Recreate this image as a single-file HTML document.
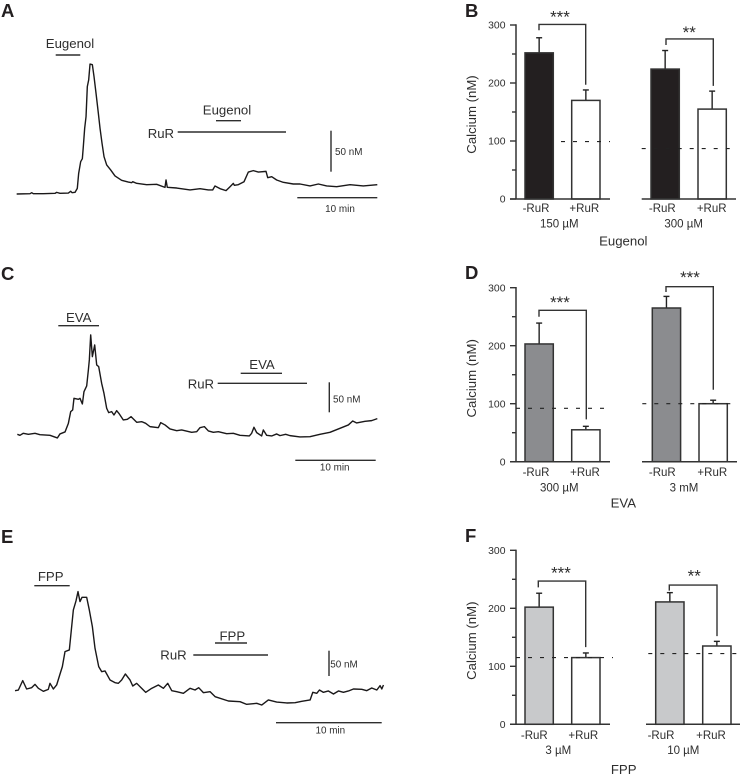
<!DOCTYPE html>
<html lang="en">
<head>
<meta charset="utf-8">
<title>Calcium responses with and without RuR</title>
<style>
html,body{margin:0;padding:0;background:#fff;width:743px;height:779px;overflow:hidden}
svg{display:block;filter:blur(0.3px)}
text{font-family:"Liberation Sans",sans-serif;fill:#2e2e2e}
.panel{font-size:18.5px;font-weight:bold;fill:#231f20}
.lab{font-size:13.2px}
.small{font-size:9.9px}
.bar-lab{font-size:11.5px}
.tick{font-size:10.4px}
.star{font-size:17px}
.mid{text-anchor:middle}
</style>
</head>
<body>
<svg id="figure" xmlns="http://www.w3.org/2000/svg" width="743" height="779" viewBox="0 0 743 779">
<rect width="743" height="779" fill="#fff"/>

<text class="panel" x="1" y="17">A</text>
<text class="panel" x="465" y="17">B</text>
<text class="panel" x="1" y="280">C</text>
<text class="panel" x="465" y="279">D</text>
<text class="panel" x="1" y="543">E</text>
<text class="panel" x="465" y="542">F</text>

<g stroke="#2e2e2e" stroke-width="1.4">
<line x1="55.7" x2="80.3" y1="55" y2="55"/>
<line x1="216" x2="241" y1="120.7" y2="120.7"/>
<line x1="177.7" x2="286" y1="132" y2="132"/>
<line x1="331" x2="331" y1="130.7" y2="171.7"/>
<line x1="297.3" x2="377.3" y1="197.7" y2="197.7"/>
<line x1="58.3" x2="99" y1="325.7" y2="325.7"/>
<line x1="240.7" x2="282" y1="373.3" y2="373.3"/>
<line x1="217.7" x2="307" y1="383.3" y2="383.3"/>
<line x1="329.3" x2="329.3" y1="382.3" y2="412.3"/>
<line x1="295.3" x2="375.7" y1="460.3" y2="460.3"/>
<line x1="34.3" x2="69.7" y1="585.7" y2="585.7"/>
<line x1="215" x2="247" y1="643" y2="643"/>
<line x1="193.3" x2="268" y1="655" y2="655"/>
<line x1="329" x2="329" y1="650.7" y2="676"/>
<line x1="276" x2="381.7" y1="722.7" y2="722.7"/>
</g>

<text class="lab mid" x="70" y="48">Eugenol</text>
<text class="lab mid" x="227" y="114.7">Eugenol</text>
<text class="lab" x="147.7" y="138">RuR</text>
<text class="small" x="335" y="155">50 nM</text>
<text class="small mid" x="340" y="212">10 min</text>

<text class="lab mid" x="78.7" y="322">EVA</text>
<text class="lab mid" x="262" y="369">EVA</text>
<text class="lab" x="187.7" y="388.7">RuR</text>
<text class="small" x="333" y="402.7">50 nM</text>
<text class="small mid" x="334.7" y="470.7">10 min</text>

<text class="lab mid" x="50.7" y="581">FPP</text>
<text class="lab mid" x="232.3" y="640.7">FPP</text>
<text class="lab" x="160.3" y="659.7">RuR</text>
<text class="small" x="330.3" y="667.3">50 nM</text>
<text class="small mid" x="330.3" y="733.3">10 min</text>

<text class="lab mid" transform="translate(476,114.5) rotate(-90)">Calcium (nM)</text>
<text class="lab mid" transform="translate(476,378.3) rotate(-90)">Calcium (nM)</text>
<text class="lab mid" transform="translate(476,640.7) rotate(-90)">Calcium (nM)</text>

<text class="lab mid" x="623.3" y="245.7">Eugenol</text>
<text class="lab mid" x="623.3" y="507.3">EVA</text>
<text class="lab mid" x="623.7" y="774">FPP</text>

<text class="bar-lab mid" x="559.3" y="227.7">150 µM</text>
<text class="bar-lab mid" x="683.7" y="227.7">300 µM</text>
<text class="bar-lab mid" x="559.3" y="491.7">300 µM</text>
<text class="bar-lab mid" x="684" y="491.7">3 mM</text>
<text class="bar-lab mid" x="558.3" y="754">3 µM</text>
<text class="bar-lab mid" x="683.3" y="754">10 µM</text>

<text class="star mid" x="560" y="22.3">***</text>
<text class="star mid" x="689.3" y="38">**</text>
<text class="star mid" x="560" y="308">***</text>
<text class="star mid" x="690" y="283">***</text>
<text class="star mid" x="561" y="578.6">***</text>
<text class="star mid" x="694.3" y="581.3">**</text>
</svg>

<script>
var traceATime = [0,1.67,1.88,2.08,3.33,4.79,5,5.42,6.46,6.75,6.92,7.29,7.58,7.75,8,8.21,8.33,8.5,8.67,8.83,9,9.17,9.46,9.67,9.92,10.21,10.42,10.67,10.92,11.25,11.75,12.29,13.12,13.96,14.38,14.5,15,16.25,17.5,18.54,18.67,18.83,20,21.67,22.92,23.96,24.5,24.79,25.42,26.17,26.67,27.08,27.21,27.71,28.42,28.96,29.58,30.21,31.17,31.38,31.88,32.5,33.33,34.58,35.42,36.67,37.71,38.75,40,41.67,43.33,45.08];
var traceASignal = [0,0.4,1.6,0.4,0.4,0.8,2,0.8,1.2,3.3,1.6,2,6.9,25.2,39.4,43.1,57.7,80.1,94.3,130.9,139,158.5,157.7,143.1,122.8,98.4,80.1,61.8,45.5,35.4,29.3,22,16.7,14.6,13.8,15,13,11.4,11.8,8.1,17.1,8.1,7.3,4.9,6.5,4.9,4.9,9.8,6.5,4.1,8.9,13,10.6,11.4,15,26.8,28.5,26.8,27.6,19.9,21.1,17.1,14.2,12.2,12.2,9.8,12.2,9.8,8.9,11.4,9.8,11.4];

var traceCTime = [0,0.33,0.75,1.38,2.21,2.83,4.08,5,5.33,5.96,6.38,6.67,6.92,7.08,7.63,7.83,8.13,8.33,8.67,8.88,9,9.17,9.38,9.67,9.92,10.17,10.54,10.83,11.17,11.42,11.79,12.08,12.42,12.75,13.25,13.75,14.21,14.92,15.54,16.04,16.58,17.63,17.92,18.46,19.08,19.92,20.54,21.79,22.42,22.83,23.38,23.88,24.5,25.13,26.17,27,27.83,29,29.29,29.58,29.92,30.54,30.75,31.17,31.79,32.42,32.83,33.54,34.08,35.33,36.58,37.83,39.08,40.33,41.38,41.92,42.42,43.46,44.29,45];
var traceCSignal = [5,3.3,6.7,5,6.7,4.4,3.3,-1.1,5.6,8.9,23.3,42.8,45.6,65,63.3,65,55.6,76.1,85.6,112.2,128.9,170.6,134.4,153.9,120.6,117.8,90,73.3,48.3,41.1,42.8,37.2,44.4,38.9,28.9,30,34.4,25,26.1,23.3,17.8,16.1,24.4,20.6,13.9,11.1,12.2,8.3,9.4,16.1,17.8,10.6,8.3,9.4,6.1,6.7,3.3,2.2,6.7,16.7,7.8,2.2,12.2,3.3,2.2,5.6,2.8,5,2.8,0.6,1.1,5,8.3,15,20.6,27.2,23.9,26.7,27.8,31.1];

var traceETime = [0,0.32,0.73,1.1,1.58,1.89,2.21,2.68,3.15,3.31,3.63,3.94,4.26,4.48,4.73,5.14,5.33,5.52,5.77,5.96,6.15,6.34,6.78,7.03,7.32,7.57,7.92,8.2,8.52,8.99,9.46,9.78,10.09,10.44,10.88,11.14,11.51,11.99,12.37,12.93,13.56,14.04,14.45,14.83,15.3,15.93,16.56,17.03,17.38,17.82,18.45,18.93,20.19,21.29,21.92,22.87,23.34,23.97,24.76,25.71,26.5,27.13,27.92,28.17,28.55,28.8,29.18,29.65,30.13,30.6,31.07,31.55,32.02,32.81,33.28,33.75,34.23,34.54,34.7,34.86];
var traceESignal = [26.3,27.6,46.1,29.6,32.2,38.8,30.9,25,28.9,40.8,29.6,37.5,59.2,73.7,103.3,106.6,146.1,185.5,203.3,221.7,202,210.5,210.5,185.5,152.6,109.9,73.7,63.8,65.1,47.4,42.1,40.8,47.4,59.2,47.4,35.5,40.8,30.9,23,30.9,37.5,30.9,40.8,26.3,24.3,21.1,30.9,27.6,32.2,22.4,24.3,14.5,5.9,4.6,-0.7,1.3,-2,7.9,3.9,2,2.6,5.3,7.9,23,21.1,27.6,23,25.7,19.7,25.7,23,25.7,29.6,28.9,26.3,31.6,27.6,36.2,29.6,37.5];

var barCategories = ['-RuR','+RuR','-RuR','+RuR'];
var yTickValues = [0,100,200,300];
var yMinorTickValues = [50,150,250];

var panelBMeans = [252,170,224,155];
var panelBErrors = [26,18,32,31];
var panelBBaselines = [99,87];

var panelDMeans = [203,55,265,100];
var panelDErrors = [36,6,20,6];
var panelDBaselines = [92,100];

var panelFMeans = [202,115,211,135];
var panelFErrors = [24,8,16,8];
var panelFBaselines = [115,122];

var SVG_NS = 'http://www.w3.org/2000/svg';
var figure = document.getElementById('figure');

function shape(tag, attrs, name) {
  var el = document.createElementNS(SVG_NS, tag);
  for (var k in attrs) { el.setAttribute(k, attrs[k]); }
  
  
  figure.appendChild(el);
  return el;
}

function drawTrace(times, signal, axis, name) {
  var d = '';
  for (var i = 0; i < times.length; i++) {
    var x = axis.x0 + times[i] * axis.pxPerMin;
    var y = axis.y0 - signal[i] * axis.pxPerNm;
    d += (i ? 'L' : 'M') + x.toFixed(2) + ' ' + y.toFixed(2);
  }
  shape('path', {d: d, fill: 'none', stroke: '#1a1819', 'stroke-width': 1.4, 'stroke-linejoin': 'round'}, name);
}

function drawBars(key, means, errors, baselines, fill, layout) {
  var yScale = function (v) { return layout.y0 - v * 0.58; };
  var ink = '#333';

  shape('line', {x1: 516, x2: 516, y1: yScale(300) - 0.7, y2: yScale(0), stroke: ink, 'stroke-width': 1.5}, 'y-axis-' + key);
  yTickValues.forEach(function (v) {
    shape('line', {x1: 510, x2: 516, y1: yScale(v), y2: yScale(v), stroke: ink, 'stroke-width': 1.4}, 'y-tick-' + key + '-' + v);
    var t = shape('text', {x: 505.5, y: yScale(v) + 3.7, 'text-anchor': 'end', 'class': 'tick'}, 'y-tick-label-' + key + '-' + v);
    t.textContent = String(v);
  });
  yMinorTickValues.forEach(function (v) {
    shape('line', {x1: 512, x2: 516, y1: yScale(v), y2: yScale(v), stroke: ink, 'stroke-width': 1.4}, 'y-minor-tick-' + key + '-' + v);
  });

  means.forEach(function (m, i) {
    var x = layout.barX[i];
    var cx = x + layout.barW / 2;
    var top = yScale(m + errors[i]);
    shape('line', {x1: cx, x2: cx, y1: top, y2: yScale(m), stroke: '#222', 'stroke-width': 1.4}, 'error-bar-' + key + '-' + i);
    shape('line', {x1: cx - 3, x2: cx + 3, y1: top, y2: top, stroke: '#222', 'stroke-width': 1.4}, 'error-cap-' + key + '-' + i);
    shape('rect', {x: x, y: yScale(m), width: layout.barW, height: yScale(0) - yScale(m),
      fill: i % 2 === 0 ? fill : '#fff', stroke: '#333', 'stroke-width': 1.5}, 'bar-' + key + '-' + i);
    var label = shape('text', {x: layout.labelX[i], y: layout.labelY, 'text-anchor': 'middle', 'class': 'bar-lab'}, 'x-tick-label-' + key + '-' + i);
    label.textContent = barCategories[i];
  });

  baselines.forEach(function (b, i) {
    shape('line', {x1: layout.dashX[i][0], x2: layout.dashX[i][1], y1: yScale(b), y2: yScale(b),
      stroke: '#222', 'stroke-width': 1.1, 'stroke-dasharray': '4 8'}, 'baseline-' + key + '-' + i);
  });

  layout.axisX.forEach(function (r, i) {
    shape('line', {x1: r[0], x2: r[1], y1: yScale(0), y2: yScale(0), stroke: ink, 'stroke-width': 1.5}, 'x-axis-' + key + '-' + i);
  });

  layout.brackets.forEach(function (b, i) {
    var d = 'M' + b.l + ' ' + yScale(b.leftEnd) + 'V' + yScale(b.top) + 'H' + b.r + 'V' + yScale(b.rightEnd);
    shape('path', {d: d, fill: 'none', stroke: '#333', 'stroke-width': 1.4}, 'significance-bracket-' + key + '-' + i);
  });
}

drawTrace(traceATime, traceASignal, {x0: 16.67, y0: 194, pxPerMin: 8, pxPerNm: 0.82}, 'trace-eugenol');
drawTrace(traceCTime, traceCSignal, {x0: 17.33, y0: 437.3, pxPerMin: 8, pxPerNm: 0.6}, 'trace-eva');
drawTrace(traceETime, traceESignal, {x0: 15, y0: 704, pxPerMin: 10.57, pxPerNm: 0.507}, 'trace-fpp');

drawBars('b', panelBMeans, panelBErrors, panelBBaselines, '#231f20', {
  y0: 199, barW: 28.3, barX: [525, 571.7, 651, 698], labelX: [536, 584.3, 662.3, 711.7], labelY: 212,
  dashX: [[561, 610], [641.7, 736.7]], axisX: [[510, 610], [641.7, 736]],
  brackets: [{l: 539, r: 585.7, top: 301, leftEnd: 291, rightEnd: 197}, {l: 666, r: 713.3, top: 276, leftEnd: 265.5, rightEnd: 195}]
});
drawBars('d', panelDMeans, panelDErrors, panelDBaselines, '#8b8c8f', {
  y0: 461.7, barW: 28.3, barX: [525, 571.7, 652.3, 699], labelX: [536, 585, 662.3, 712.3], labelY: 476,
  dashX: [[516, 611.7], [642.3, 738.3]], axisX: [[510, 610], [642, 737]],
  brackets: [{l: 539, r: 586.3, top: 261, leftEnd: 250, rightEnd: 73}, {l: 666, r: 713.3, top: 301.7, leftEnd: 292.5, rightEnd: 124}]
});
drawBars('f', panelFMeans, panelFErrors, panelFBaselines, '#c8c9cb', {
  y0: 724.3, barW: 28.3, barX: [525, 571.7, 655.7, 702.7], labelX: [534.3, 583.3, 661, 711], labelY: 739,
  dashX: [[516, 613], [648.3, 743]], axisX: [[510, 610], [646, 740]],
  brackets: [{l: 538.3, r: 585.7, top: 247, leftEnd: 236, rightEnd: 133}, {l: 669.3, r: 717, top: 240, leftEnd: 230.5, rightEnd: 152}]
});
</script>
</body>
</html>
